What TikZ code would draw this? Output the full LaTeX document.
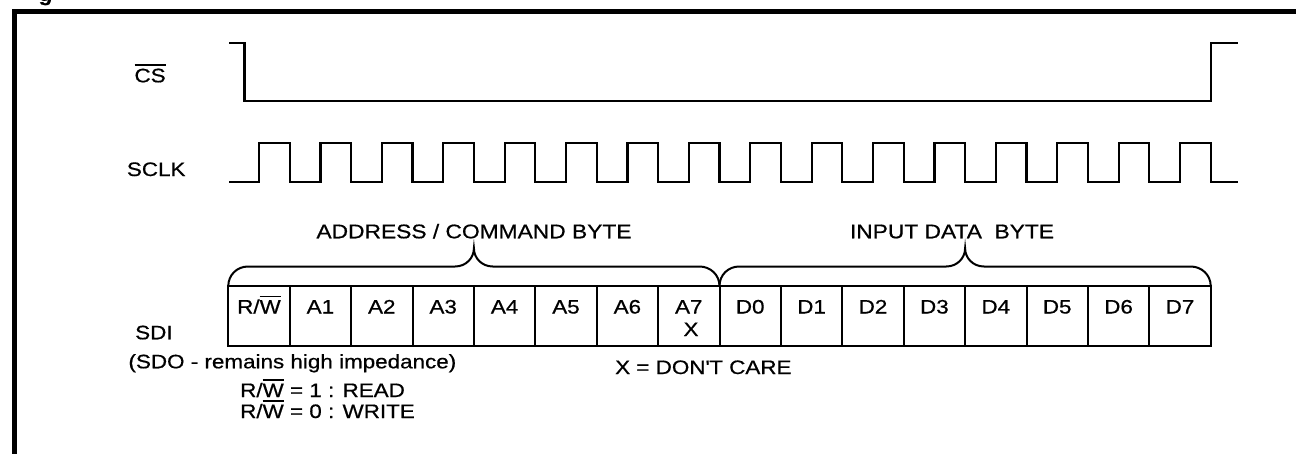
\documentclass[tikz,border=0pt]{standalone}
\usepackage{fontspec}
\setmainfont{Liberation Sans}[FakeStretch=1.15,FakeBold=0.6]
\newcommand\ob[1]{\leavevmode\vbox{\hrule height 1.5pt\kern 3pt\hbox{#1}}}
\newcommand\rwbar{R/\ob{W}}
\begin{document}
\begin{tikzpicture}[x=1pt,y=-1pt,
  wave/.style={line width=2.2pt, line join=miter},
  framel/.style={line width=5pt, line join=miter},
  cellline/.style={line width=2pt},
  bracel/.style={line width=2pt},
  lbl/.style={inner sep=0pt, font=\fontsize{19.5}{22}\selectfont},
  biglbl/.style={inner sep=0pt, font=\fontsize{19.8}{22}\selectfont}]
\useasboundingbox (0,0) rectangle (1296,453);
% frame and cut caption
\begin{scope}
\clip (0,0) rectangle (1296,453);
\draw[framel] (14,470) -- (14,11.5) -- (1310,11.5);
\node[anchor=base, inner sep=0pt, font=\bfseries\fontsize{20}{22}\selectfont] (cap) at (45.5,1) {g};
\end{scope}
% CS
\draw[wave] (229,42.7) -- (244.5,42.7) -- (244.5,101) -- (1210.7,101) -- (1210.7,42.7) -- (1237.5,42.7);
% SCLK
\draw[wave] (229,181.7)
  \foreach \i in {0,...,15}{ -- ({259+61.4*\i},181.7) -- ({259+61.4*\i},143.3) -- ({289.7+61.4*\i},143.3) -- ({289.7+61.4*\i},181.7)}
  -- (1238.3,181.7);
% cells
\draw[cellline] (228.3,286) rectangle (1210.7,345.5);
\foreach \i in {1,...,15} \draw[cellline] ({228.3+61.4*\i},286) -- ({228.3+61.4*\i},345.5);
\foreach \t [count=\i from 0] in {\rwbar,A1,A2,A3,A4,A5,A6,A7,D0,D1,D2,D3,D4,D5,D6,D7}
  \node[lbl, anchor=base] (c\i) at ({259+61.4*\i},313.5) {\t};
\node[lbl, anchor=base] (xdc) at (691,336) {X};
% braces
\foreach \s in {0,491.2}{
\draw[bracel] ({228.3+\s},286) .. controls ({228.3+\s},275) and ({237+\s},266.5) .. ({248+\s},266.5)
  -- ({455+\s},266.5) .. controls ({466+\s},266.5) and ({473.9+\s},258) .. ({473.9+\s},248.3)
  .. controls ({473.9+\s},258) and ({481.8+\s},266.5) .. ({492.8+\s},266.5)
  -- ({699.5+\s},266.5) .. controls ({710.5+\s},266.5) and ({719.5+\s},275) .. ({719.5+\s},286);
}
\node[biglbl, anchor=base] (addr) at (474,238.3) {ADDRESS / COMMAND BYTE};
\node[biglbl, anchor=base] (data) at (952,238.3) {INPUT DATA\ \ BYTE};
% signal names
\node[lbl, anchor=base west] (cs) at (134.3,82.3) {\ob{CS}};
\node[lbl, anchor=base west] (sclk) at (126.7,176) {SCLK};
\node[lbl, anchor=base west] (sdi) at (135,339.3) {SDI};
\node[lbl, anchor=base west] (sdo) at (128.3,368.3) {(SDO - remains high impedance)};
\node[lbl, anchor=base west] (rd) at (240,397) {\rwbar\ = 1 : READ};
\node[lbl, anchor=base west] (wr) at (240,418) {\rwbar\ = 0 : WRITE};
\node[lbl, anchor=base west] (dc) at (615,374) {X = DON\textquotesingle T CARE};
\end{tikzpicture}
\end{document}
